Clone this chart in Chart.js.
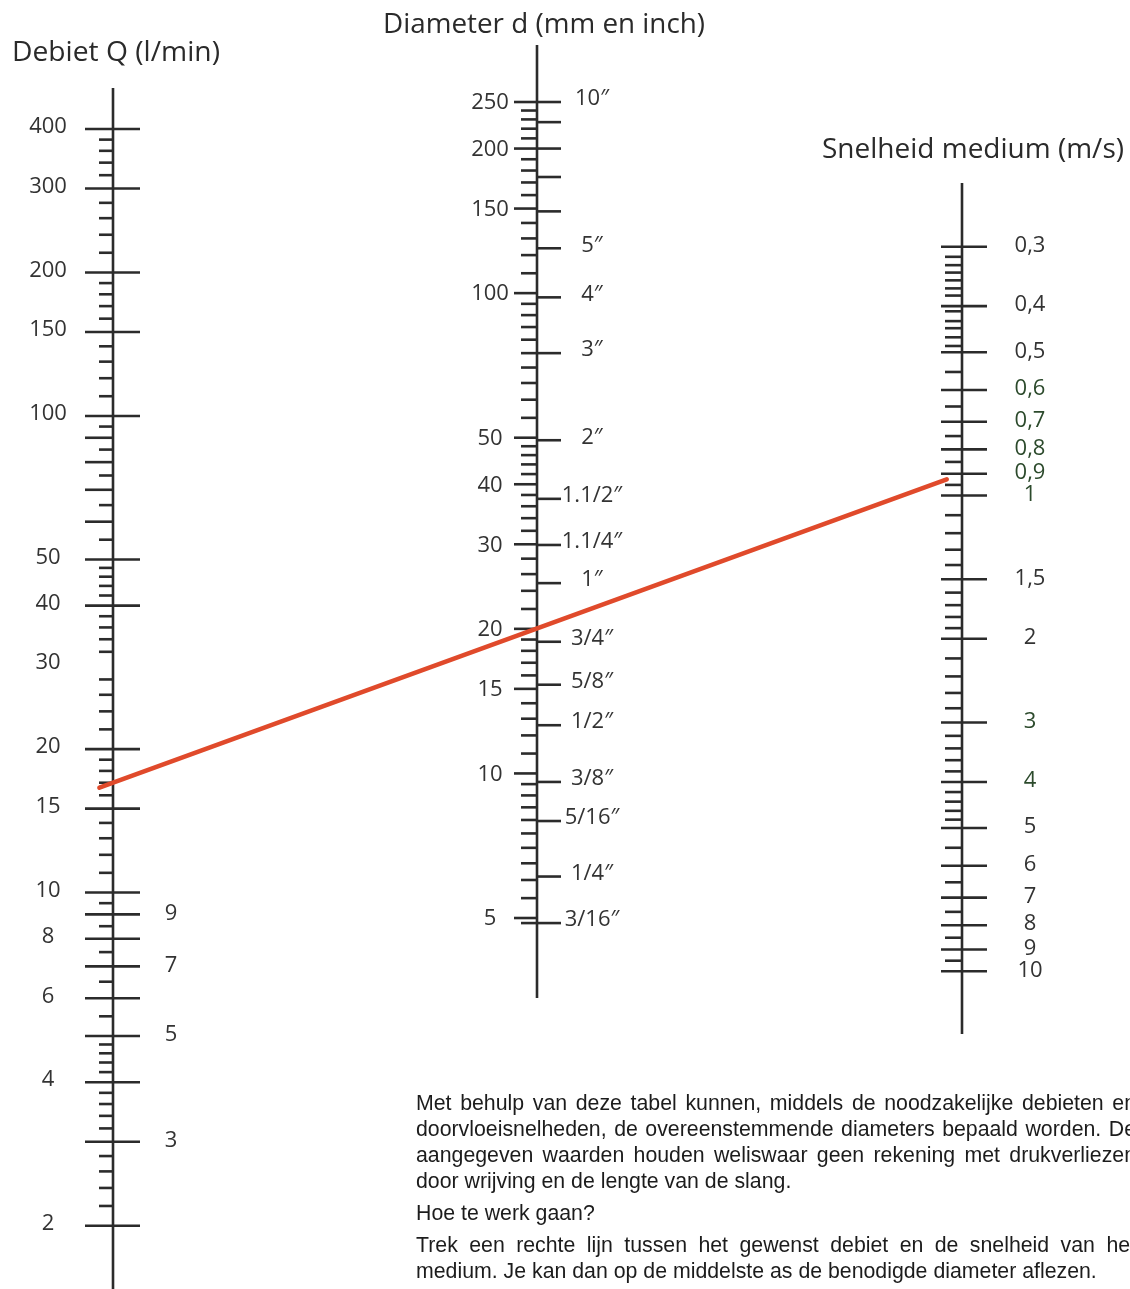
<!DOCTYPE html>
<html>
<head>
<meta charset="utf-8">
<script src="https://cdn.jsdelivr.net/npm/chart.js@4.4.1/dist/chart.umd.min.js"></script>
<style>
  html, body { margin: 0; padding: 0; background: #fff; overflow: hidden; }
  #wrap { position: relative; width: 1130px; height: 1289px; overflow: hidden; }
  #c { position: absolute; left: 0; top: 0; }
  #note { position: absolute; left: 416px; top: 1090px; width: 720px;
          font-family: "Liberation Sans", Arial, Helvetica, sans-serif; font-size: 21.3px;
          line-height: 26px; color: #1c1c1c; }
  #note div { white-space: nowrap; }
  #note .j { text-align: justify; text-align-last: justify; white-space: normal; }
  #note .gap { margin-top: 6px; }
</style>
</head>
<body>
<div id="wrap">
  <canvas id="c"></canvas>
  <div id="note">
    <div class="j">Met behulp van deze tabel kunnen, middels de noodzakelijke debieten en</div>
    <div class="j">doorvloeisnelheden, de overeenstemmende diameters bepaald worden. De</div>
    <div class="j">aangegeven waarden houden weliswaar geen rekening met drukverliezen</div>
    <div>door wrijving en de lengte van de slang.</div>
    <div class="gap">Hoe te werk gaan?</div>
    <div class="j gap">Trek een rechte lijn tussen het gewenst debiet en de snelheid van het</div>
    <div>medium. Je kan dan op de middelste as de benodigde diameter aflezen.</div>
  </div>
</div>
<script>
// ---------- Debiet Q (l/min) ----------
const qLabelValues      = [400, 300, 200, 150, 100, 50, 40, 30, 20, 15, 10, 8, 6, 4, 2];
const qRightLabelValues = [9, 7, 5, 3];
const qMajorTicks       = [400, 300, 200, 150, 100, 50, 40, 20, 15, 10, 9, 8, 7, 6, 5, 4, 3, 2];
const qMediumTicks      = [90, 80, 70, 60];
const qMinorTicks       = [380, 360, 340, 320, 280, 260, 240, 220, 190, 180, 170, 160,
                           140, 130, 120, 110, 95, 85, 75, 65, 55, 48, 46, 44, 42,
                           38, 36, 34, 32, 28, 26, 24, 22, 19, 18, 17, 16, 14, 13, 12, 11,
                           9.5, 8.5, 7.5, 6.5, 5.5, 4.8, 4.6, 4.4, 4.2, 3.8, 3.6, 3.4, 3.2,
                           2.8, 2.6, 2.4, 2.2];

// ---------- Diameter d (mm en inch) ----------
const dLabelValues   = [250, 200, 150, 100, 50, 40, 30, 20, 15, 10, 5];
const dMinorTicks    = [240, 230, 220, 210, 190, 180, 170, 160, 140, 130, 120, 110,
                        95, 90, 85, 80, 75, 70, 65, 60, 55, 48, 46, 44, 42, 38, 36, 34, 32,
                        28, 26, 24, 22, 19, 18, 17, 16, 14, 13, 12, 11,
                        9.5, 9, 8.5, 8, 7.5, 7, 6.5, 6, 5.5, 4.88];
const inchTickValues = [250, 227, 200, 174.5, 148, 124, 98, 75, 49.4, 37.3, 29.9, 24.9,
                        18.8, 15.3, 12.6, 9.6, 7.96, 6.1, 4.88];
const inchTickLabels = ['10″', '', '', '', '', '5″', '4″', '3″', '2″', '1.1/2″', '1.1/4″', '1″',
                        '3/4″', '5/8″', '1/2″', '3/8″', '5/16″', '1/4″', '3/16″'];

// ---------- Snelheid medium (m/s) ----------
const vTickValues = [0.3, 0.4, 0.5, 0.6, 0.7, 0.8, 0.9, 1, 1.5, 2, 3, 4, 5, 6, 7, 8, 9, 10];
const vTickLabels = ['0,3', '0,4', '0,5', '0,6', '0,7', '0,8', '0,9', '1', '1,5', '2', '3', '4',
                     '5', '6', '7', '8', '9', '10'];
const vGreenLabels = ['0,6', '0,7', '0,8', '0,9', '1', '3', '4'];
const vMinorTicks = [0.315, 0.328, 0.34, 0.353, 0.367, 0.38, 0.41, 0.43, 0.445, 0.465, 0.485,
                     0.55, 0.65, 0.75, 0.85, 0.95, 1.1, 1.2, 1.3, 1.4, 1.6, 1.7, 1.8, 1.9,
                     2.2, 2.4, 2.6, 2.8, 3.2, 3.4, 3.6, 3.8, 4.2, 4.4, 4.6, 4.8,
                     5.5, 6.5, 7.5, 8.5, 9.5];

// ---------- example reading (red line) ----------
const exampleQ = 17;   // l/min
const exampleV = 0.9;  // m/s

// ---------- titles ----------
const titles = ['Debiet Q (l/min)', 'Diameter d (mm en inch)', 'Snelheid medium (m/s)'];

// ====== drawing ======
const INK = '#2b2b2b';
const TXT = '#333333';
const GREEN = '#2c4a2c';
const FAMILY = '"Open Sans", "Noto Sans", sans-serif';
const LABEL_FONT = '22px ' + FAMILY;

function hLine(ctx, x1, x2, y) { ctx.beginPath(); ctx.moveTo(x1, y); ctx.lineTo(x2, y); ctx.stroke(); }
function vLine(ctx, x, y1, y2) { ctx.beginPath(); ctx.moveTo(x, y1); ctx.lineTo(x, y2); ctx.stroke(); }

// title with given font size, squeezed horizontally to the measured width
function fitTitle(ctx, text, left, midY, width, size) {
  ctx.font = size + 'px ' + FAMILY;
  const w = ctx.measureText(text).width;
  ctx.save();
  ctx.translate(left, midY);
  ctx.scale(width / w, 1);
  ctx.textAlign = 'left';
  ctx.textBaseline = 'middle';
  ctx.fillText(text, 0, 0);
  ctx.restore();
}

const nomogram = {
  id: 'nomogram',
  afterDraw(chart) {
    const ctx = chart.ctx;
    const sx = chart.scales.x, yQ = chart.scales.yQ, yD = chart.scales.yD, yV = chart.scales.yV;
    const xQ = sx.getPixelForValue(113), xD = sx.getPixelForValue(537), xV = sx.getPixelForValue(962);
    ctx.save();
    ctx.strokeStyle = INK;
    ctx.lineWidth = 2.6;
    ctx.lineCap = 'butt';

    // --- Q axis ---
    vLine(ctx, xQ, 88, 1289);
    qMajorTicks.forEach(v => hLine(ctx, xQ - 28, xQ + 27, yQ.getPixelForValue(v)));
    qMediumTicks.forEach(v => hLine(ctx, xQ - 28, xQ, yQ.getPixelForValue(v)));
    qMinorTicks.forEach(v => hLine(ctx, xQ - 14, xQ, yQ.getPixelForValue(v)));

    // --- d axis ---
    vLine(ctx, xD, 45, 998);
    dLabelValues.forEach(v => hLine(ctx, xD - 23, xD, yD.getPixelForValue(v)));
    dMinorTicks.forEach(v => hLine(ctx, xD - 16, xD, yD.getPixelForValue(v)));
    inchTickValues.forEach(v => hLine(ctx, xD, xD + 24, yD.getPixelForValue(v)));

    // --- v axis ---
    vLine(ctx, xV, 183, 1034);
    vTickValues.forEach(v => hLine(ctx, xV - 21, xV + 25, yV.getPixelForValue(v)));
    vMinorTicks.forEach(v => hLine(ctx, xV - 17, xV, yV.getPixelForValue(v)));

    // --- labels ---
    ctx.font = LABEL_FONT;
    ctx.textAlign = 'center';
    ctx.textBaseline = 'middle';
    ctx.fillStyle = TXT;
    qLabelValues.forEach(v => ctx.fillText(String(v), xQ - 65, yQ.getPixelForValue(v) - 2));
    qRightLabelValues.forEach(v => ctx.fillText(String(v), xQ + 58, yQ.getPixelForValue(v) - 1));
    dLabelValues.forEach(v => ctx.fillText(String(v), xD - 47, yD.getPixelForValue(v) + 1));
    inchTickValues.forEach((v, i) => {
      if (inchTickLabels[i]) ctx.fillText(inchTickLabels[i], xD + 55, yD.getPixelForValue(v) - 3);
    });
    vTickValues.forEach((v, i) => {
      const t = vTickLabels[i];
      ctx.fillStyle = vGreenLabels.includes(t) ? GREEN : TXT;
      ctx.fillText(t, xV + 68, yV.getPixelForValue(v) - 1);
    });

    // --- titles ---
    ctx.fillStyle = '#2a2a2a';
    fitTitle(ctx, titles[0], 12, 53, 208, 26.5);
    fitTitle(ctx, titles[1], 383, 25, 322, 26.5);
    fitTitle(ctx, titles[2], 822, 150, 302, 27);

    // --- example line ---
    const p1 = { x: xQ, y: yQ.getPixelForValue(exampleQ) };
    const p2 = { x: xV, y: yV.getPixelForValue(exampleV) };
    const t0 = -0.016, t1 = 0.982;
    ctx.strokeStyle = '#e04a2b';
    ctx.lineWidth = 4.6;
    ctx.lineCap = 'round';
    ctx.beginPath();
    ctx.moveTo(p1.x + t0 * (p2.x - p1.x), p1.y + t0 * (p2.y - p1.y));
    ctx.lineTo(p1.x + t1 * (p2.x - p1.x), p1.y + t1 * (p2.y - p1.y));
    ctx.stroke();
    ctx.restore();
  }
};

const canvas = document.getElementById('c');
canvas.width = 1130; canvas.height = 1289;
canvas.style.width = '1130px'; canvas.style.height = '1289px';

new Chart(canvas, {
  type: 'scatter',
  data: { datasets: [] },
  options: {
    responsive: false,
    animation: false,
    devicePixelRatio: 1,
    layout: { padding: 0 },
    plugins: { legend: { display: false }, tooltip: { enabled: false }, title: { display: false } },
    scales: {
      x:  { type: 'linear', min: 0, max: 1130, display: false },
      yQ: { type: 'logarithmic', min: 1.473, max: 746, display: false, position: 'left' },
      yD: { type: 'logarithmic', min: 0.8444, max: 407.7, display: false, position: 'left' },
      yV: { type: 'logarithmic', min: 0.0909, max: 46.53, reverse: true, display: false, position: 'right' }
    }
  },
  plugins: [nomogram]
});
</script>
</body>
</html>
